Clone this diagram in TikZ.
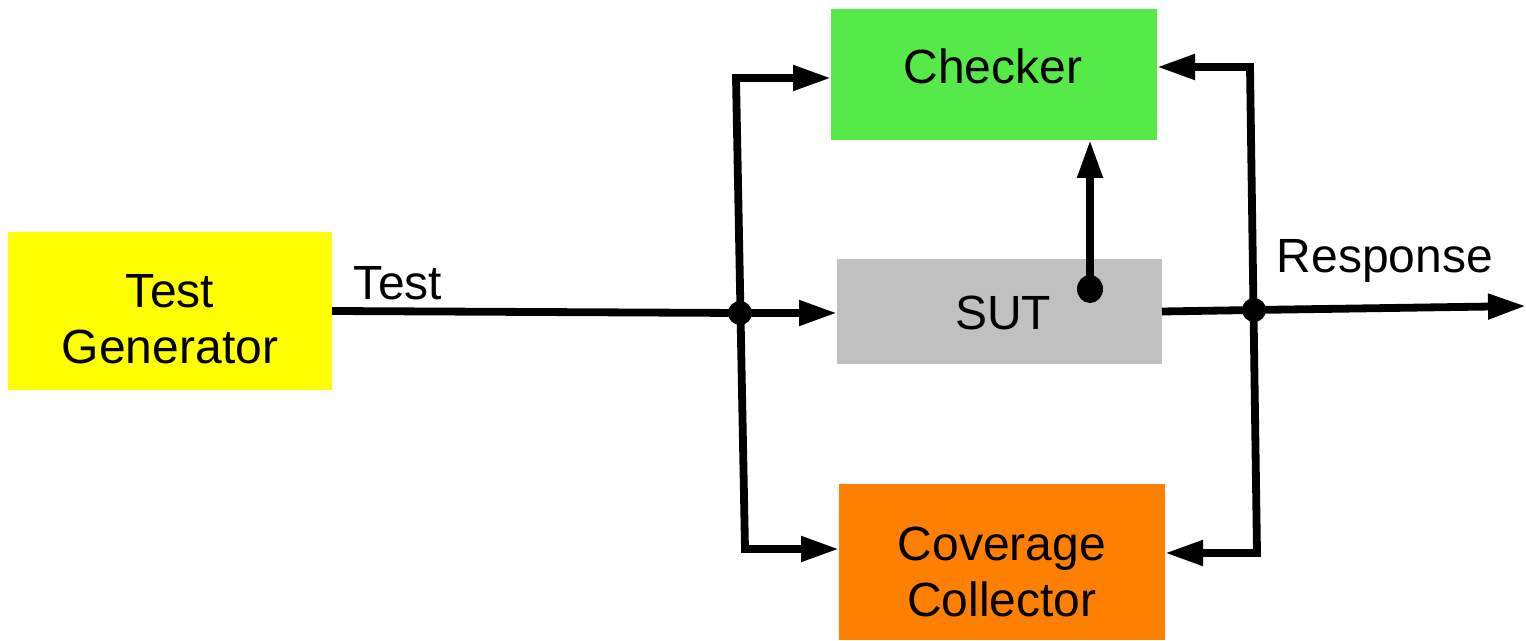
\documentclass[tikz,border=0pt]{standalone}
\usepackage{fontspec}
\setmainfont{Liberation Sans}
\usetikzlibrary{arrows.meta}
\definecolor{tgyellow}{HTML}{FFFF00}
\definecolor{chgreen}{HTML}{55EA48}
\definecolor{sutgray}{HTML}{C0C0C0}
\definecolor{ccorange}{HTML}{FF7F00}
\tikzset{
  box/.style={draw=none, inner sep=0pt, outer sep=0pt},
  lbl/.style={font=\fontsize{24}{28}\selectfont, inner sep=0pt, align=center},
  wire/.style={line width=3.9pt, line join=miter},
  arr/.style={-{Triangle[length=19pt,width=12pt]}},
  barr/.style={{Triangle[length=19pt,width=12pt]}-{Triangle[length=19pt,width=12pt]}},
  dot/.style={fill=black}
}
\begin{document}
\begin{tikzpicture}[x=0.5pt,y=-0.5pt]
\useasboundingbox (0,0) rectangle (1526,641);
% boxes
\node[box, fill=tgyellow, minimum width=162pt, minimum height=79pt] (tg) at (170,311) {};
\node[box, fill=chgreen, minimum width=163pt, minimum height=65.5pt] (checker) at (994,74.5) {};
\node[box, fill=sutgray, minimum width=162.5pt, minimum height=52.5pt] (sut) at (999.5,311.5) {};
\node[box, fill=ccorange, minimum width=163pt, minimum height=78pt] (cc) at (1002,562) {};
% box texts
\node[lbl] (tgtext) at (170,319) {Test\\Generator};
\node[lbl] (chtext) at (993,66) {Checker};
\node[lbl] (suttext) at (1003,313) {SUT};
\node[lbl] (cctext) at (1002,572) {Coverage\\Collector};
% edge labels
\node[lbl] (testlbl) at (398,283) {Test};
\node[lbl] (resplbl) at (1385,261) {Response};
% coordinates
\coordinate (j1) at (740,313);
\coordinate (j2) at (1254,310);
\coordinate (lt) at (736,78);
\coordinate (lb) at (745,549);
\coordinate (rt) at (1250,67);
\coordinate (rb) at (1257,553);
\coordinate (s) at (1090,289);
\coordinate (out) at (1526,306);
% connectors
\draw[wire] (tg.east) -- (j1);
\draw[wire,arr] (j1) -- (j1 -| sut.west);
\draw[wire,barr] (lt -| checker.west) -- (lt) -- (lb) -- (lb -| cc.west);
\draw[wire,arr] (s) -- (s |- checker.south);
\draw[wire] (sut.east) -- (j2);
\draw[wire,arr] (j2) -- (out);
\draw[wire,barr] (rt -| checker.east) -- (rt) -- (rb) -- (rb -| cc.east);
% dots
\fill[dot] (j1) circle (6pt);
\fill[dot] (j2) circle (6pt);
\fill[dot] (s) ellipse (6.5pt and 7pt);
\end{tikzpicture}
\end{document}
